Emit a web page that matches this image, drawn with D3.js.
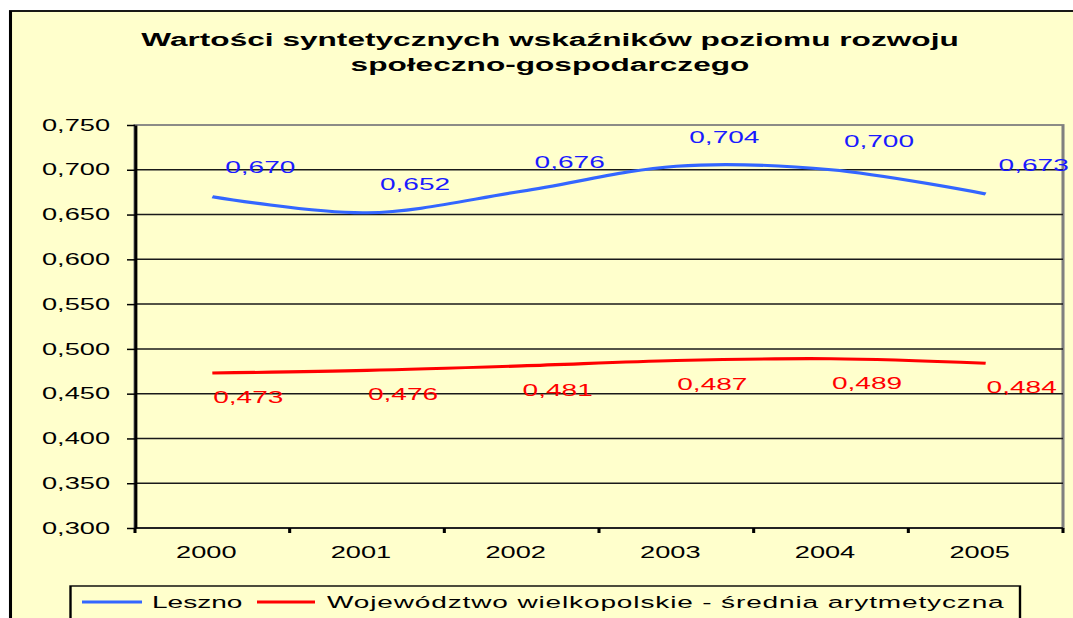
<!DOCTYPE html>
<html>
<head>
<meta charset="utf-8">
<script src="https://cdn.jsdelivr.net/npm/d3@7"></script>
<style>
  body { margin: 0; background: #fff; }
  text { font-family: "Liberation Sans", Arial, sans-serif; }
</style>
</head>
<body>
<div id="chart"></div>
<script>
// data
var years = ["2000", "2001", "2002", "2003", "2004", "2005"];
var leszno = [0.670, 0.652, 0.676, 0.704, 0.700, 0.673];
var wielkopolskie = [0.473, 0.476, 0.481, 0.487, 0.489, 0.484];
var yTicks = [0.30, 0.35, 0.40, 0.45, 0.50, 0.55, 0.60, 0.65, 0.70, 0.75];
var seriesNames = ["Leszno", "Województwo wielkopolskie - średnia arytmetyczna"];

var W = 1073, H = 618;
// the original picture is stretched sideways, so draw narrow and scale x
var K = 1.7;
function ix(v) { return v / K; }

var svg = d3.select("#chart").append("svg")
    .attr("width", W)
    .attr("height", H);

var g = svg.append("g").attr("transform", "scale(" + K + ",1)");

// chart background + border
g.append("rect")
    .attr("x", ix(10.5)).attr("y", 11)
    .attr("width", ix(1200)).attr("height", 700)
    .attr("fill", "#FFFFCC")
    .attr("stroke", "#000")
    .attr("stroke-width", 1.8);

// title
var title = g.append("text")
    .attr("text-anchor", "middle")
    .style("font-weight", "bold")
    .style("font-size", "18.6px")
    .attr("fill", "#000");
title.append("tspan").attr("x", ix(550)).attr("y", 46).text("Wartości syntetycznych wskaźników poziomu rozwoju");
title.append("tspan").attr("x", ix(550)).attr("y", 71).text("społeczno-gospodarczego");

// scales
var x = d3.scaleBand().domain(years).range([ix(135), ix(1063)]);
var y = d3.scaleLinear().domain([0.30, 0.75]).range([528, 125]);
function xc(d) { return x(d) + x.bandwidth() / 2; }

var left = x.range()[0], right = x.range()[1];

// plot area frame (gray top/right)
g.append("rect")
    .attr("x", left).attr("y", y(0.75))
    .attr("width", right - left).attr("height", y(0.30) - y(0.75))
    .attr("fill", "none")
    .attr("stroke", "#808080")
    .attr("stroke-width", 1.8);

// grid lines
g.selectAll(".grid")
  .data(yTicks.filter(function(d){ return d > 0.30 && d < 0.75; }))
  .enter().append("line")
    .attr("x1", left).attr("x2", right)
    .attr("y1", function(d){ return y(d); })
    .attr("y2", function(d){ return y(d); })
    .attr("stroke", "#1a1a1a")
    .attr("stroke-width", 1.5);

// y axis
var fmt = d3.format(".3f");
var yAxis = g.append("g")
    .attr("transform", "translate(" + left + ",0)")
    .call(d3.axisLeft(y).tickValues(yTicks).tickSize(ix(8)).tickSizeOuter(0)
      .tickFormat(function(d){ return fmt(d).replace(".", ","); }));
yAxis.select(".domain").attr("stroke", "#000").attr("stroke-width", 1.8);
yAxis.selectAll(".tick line").attr("stroke", "#000").attr("stroke-width", 1.5);
yAxis.selectAll(".tick text")
    .attr("x", -ix(25))
    .style("font-size", "16px")
    .style("font-family", "'Liberation Sans', Arial, sans-serif")
    .attr("fill", "#000");

// x axis: ticks sit on the category boundaries
g.append("line")
    .attr("x1", left).attr("x2", right)
    .attr("y1", y(0.30)).attr("y2", y(0.30))
    .attr("stroke", "#000").attr("stroke-width", 1.7);
var bounds = years.map(function(d){ return x(d); }).concat([right]);
g.selectAll(".xtick")
  .data(bounds)
  .enter().append("line")
    .attr("x1", function(d){ return d; }).attr("x2", function(d){ return d; })
    .attr("y1", y(0.30)).attr("y2", y(0.30) + 5)
    .attr("stroke", "#000").attr("stroke-width", 1.8);
g.selectAll(".xlabel")
  .data(years)
  .enter().append("text")
    .attr("x", function(d){ return xc(d) - ix(6); })
    .attr("y", 558)
    .attr("text-anchor", "middle")
    .style("font-size", "16px")
    .attr("fill", "#000")
    .text(function(d){ return d; });

// lines
var line = d3.line()
    .x(function(d, i){ return xc(years[i]); })
    .y(function(d){ return y(d); })
    .curve(d3.curveCardinal.tension(0));

var series = [
  { values: leszno, color: "#3366FF", labelColor: "#1a1aff", dx: 48, dy: -29 },
  { values: wielkopolskie, color: "#FF0000", labelColor: "#FF0000", dx: 36, dy: 24 }
];

series.forEach(function(s) {
  g.append("path")
      .datum(s.values)
      .attr("d", line)
      .attr("fill", "none")
      .attr("stroke", s.color)
      .attr("stroke-width", 3.1);

  g.selectAll(null)
    .data(s.values)
    .enter().append("text")
      .attr("x", function(d, i){ return xc(years[i]) + ix(s.dx); })
      .attr("y", function(d){ return y(d) + s.dy; })
      .attr("dy", "0.35em")
      .attr("text-anchor", "middle")
      .style("font-size", "16.5px")
      .attr("fill", s.labelColor)
      .text(function(d){ return fmt(d).replace(".", ","); });
});

// legend
g.append("rect")
    .attr("x", ix(70.5)).attr("y", 586)
    .attr("width", ix(1020) - ix(70.5)).attr("height", 50)
    .attr("fill", "#FFFFCC")
    .attr("stroke", "#000")
    .attr("stroke-width", 1.4);

var legendItems = [
  { name: seriesNames[0], color: "#3366FF", x1: 82, x2: 142, tx: 152, ls: 0 },
  { name: seriesNames[1], color: "#FF0000", x1: 257, x2: 315, tx: 327, ls: 0.5 }
];
legendItems.forEach(function(l) {
  g.append("line")
      .attr("x1", ix(l.x1)).attr("x2", ix(l.x2))
      .attr("y1", 602).attr("y2", 602)
      .attr("stroke", l.color).attr("stroke-width", 3.1);
  g.append("text")
      .attr("x", ix(l.tx)).attr("y", 608)
      .style("font-size", "16.5px")
      .style("letter-spacing", l.ls + "px")
      .attr("fill", "#000")
      .text(l.name);
});
</script>
</body>
</html>
